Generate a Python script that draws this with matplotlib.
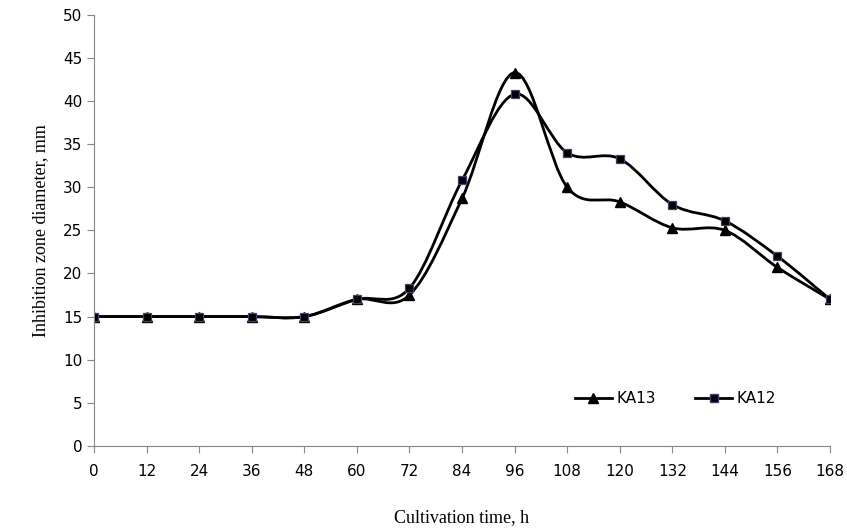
import numpy as np
import matplotlib.pyplot as plt
from matplotlib.path import Path
from matplotlib.patches import PathPatch

hours = [0, 12, 24, 36, 48, 60, 72, 84, 96, 108, 120, 132, 144, 156, 168]
ka13 = [15, 15, 15, 15, 15, 17, 17.5, 28.7, 43.3, 30, 28.3, 25.3, 25, 20.7, 17]
ka12 = [15, 15, 15, 15, 15, 17, 18.3, 30.8, 40.8, 34, 33.3, 28, 26.1, 22, 17]


def smooth_path(x, y):
    # Excel-like smoothed line: cubic bezier through the points
    pts = np.column_stack([x, y]).astype(float)
    verts = [pts[0]]
    codes = [Path.MOVETO]
    n = len(pts)
    for i in range(n - 1):
        p0 = pts[max(i - 1, 0)]
        p1 = pts[i]
        p2 = pts[i + 1]
        p3 = pts[min(i + 2, n - 1)]
        c1 = p1 + (p2 - p0) / 6.0
        c2 = p2 - (p3 - p1) / 6.0
        verts += [c1, c2, p2]
        codes += [Path.CURVE4] * 3
    return Path(verts, codes)


fig = plt.figure(figsize=(8.47, 5.29), dpi=100)
ax = fig.add_axes([0.111, 0.157, 0.869, 0.815])

for ys in (ka13, ka12):
    ax.add_patch(PathPatch(smooth_path(hours, ys), fill=False, edgecolor='black', lw=2))

ax.plot(hours, ka13, ls='none', marker='^', ms=6.5, color='black')
ax.plot(hours, ka12, ls='none', marker='s', ms=6, mfc='black', mec='#4b3a6e', mew=0.9)

# legend handles with line + marker
h1, = ax.plot([], [], '-', color='black', lw=2, marker='^', ms=6.5)
h2, = ax.plot([], [], '-', color='black', lw=2, marker='s', ms=6, mfc='black', mec='#4b3a6e')
ax.legend([h1, h2], ['KA13', 'KA12'], loc='center', bbox_to_anchor=(0.79, 0.11), ncol=2,
          frameon=False, handlelength=2.4, handletextpad=0.3, columnspacing=2.6,
          prop={'family': 'DejaVu Sans', 'size': 11})

ax.set_xlim(0, 168)
ax.set_ylim(0, 50)
ax.set_xticks(hours)
ax.set_yticks(range(0, 51, 5))
for s in ('top', 'right'):
    ax.spines[s].set_visible(False)
for s in ('left', 'bottom'):
    ax.spines[s].set_color('#868686')
ax.tick_params(direction='out', length=5, color='#868686', labelsize=11)
ax.tick_params(axis='x', pad=8, labelsize=11)

ax.set_xlabel('Cultivation time, h', family='Liberation Serif', fontsize=13, labelpad=22)
ax.set_ylabel('Inhibition zone diameter, mm', family='Liberation Serif', fontsize=13, labelpad=10)

fig.savefig('out.png', dpi=100)
